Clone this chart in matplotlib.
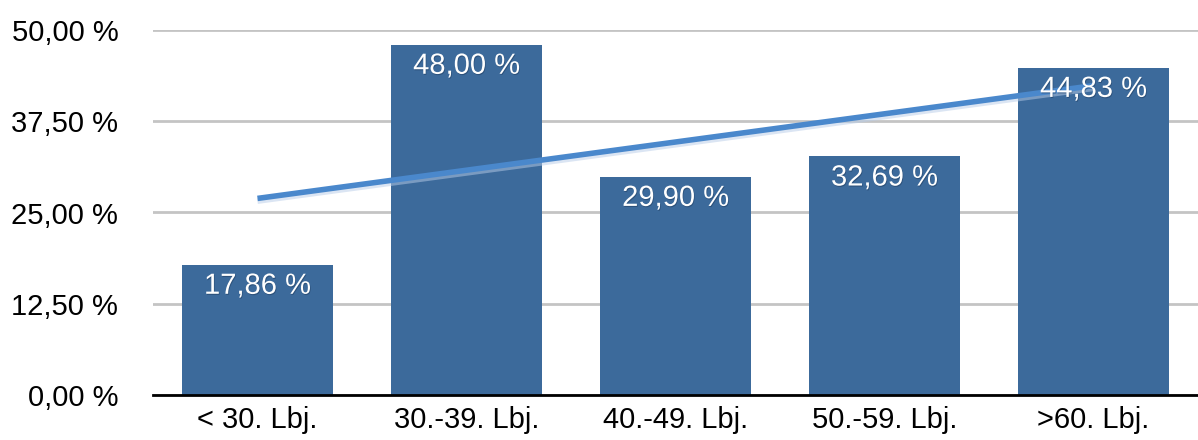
import numpy as np
import matplotlib
matplotlib.use("Agg")
import matplotlib.pyplot as plt
import matplotlib.patheffects as pe

plt.rcParams['font.family'] = ['Liberation Sans', 'DejaVu Sans']

categories = ["< 30. Lbj.", "30.-39. Lbj.", "40.-49. Lbj.", "50.-59. Lbj.", ">60. Lbj."]
values = [17.86, 48.00, 29.90, 32.69, 44.83]
yticks = [0.0, 12.5, 25.0, 37.5, 50.0]


def pct(v):
    return f"{v:.2f}".replace(".", ",") + " %"


fig = plt.figure(figsize=(11.98, 4.4), dpi=100)
ax = fig.add_axes([153 / 1198, 45 / 440, 1045 / 1198, 365 / 440])

x = np.arange(len(categories))
bar_color = "#3c6a9b"
ax.bar(x, values, width=0.72, color=bar_color, zorder=2)

# linear trend line across the categories
slope, intercept = np.polyfit(x, values, 1)
trend = slope * x + intercept
ax.plot(x, trend, color="#4a88cc", linewidth=4, solid_capstyle="butt", zorder=3,
        path_effects=[pe.SimpleLineShadow(offset=(0, -2), shadow_color="#b8cce8", alpha=0.5),
                      pe.Normal()])

for xi, v in zip(x, values):
    ax.text(xi, v - 2.9, pct(v), ha="center", va="center", color="white",
            fontsize=21, zorder=4,
            path_effects=[pe.withSimplePatchShadow(offset=(0.5, -0.8), shadow_rgbFace="#1e3a5c", alpha=0.5)])

ax.set_xlim(-0.5, len(categories) - 0.5)
ax.set_ylim(0, 50)
ax.set_yticks(yticks)
ax.set_yticklabels([pct(t) for t in yticks], fontsize=21)
ax.set_xticks(x)
ax.set_xticklabels(categories, fontsize=21)
ax.tick_params(axis="y", length=0, pad=25)
ax.tick_params(axis="x", length=0, pad=8)

ax.grid(axis="y", color="#c4c4c4", linewidth=2, zorder=0)
for s in ["top", "right", "left"]:
    ax.spines[s].set_visible(False)
ax.spines["bottom"].set_color("black")
ax.spines["bottom"].set_linewidth(2)
ax.spines["bottom"].set_zorder(5)

fig.savefig("out.png", dpi=100)
